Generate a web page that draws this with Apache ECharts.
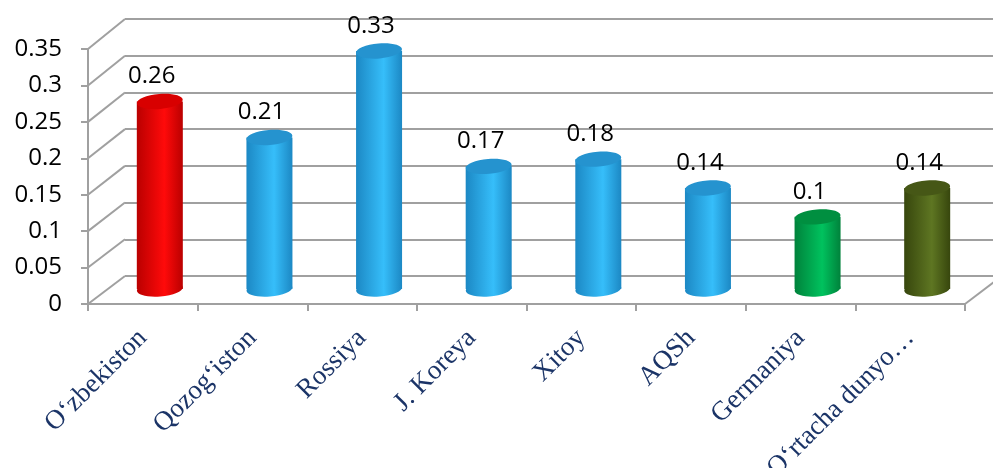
<!DOCTYPE html>
<html>
<head>
<meta charset="utf-8">
<script src="https://cdn.jsdelivr.net/npm/echarts@6/dist/echarts.min.js"></script>
<style>
  html, body { margin: 0; padding: 0; background: #fff; }
  #chart { width: 993px; height: 468px; }
</style>
</head>
<body>
<div id="chart"></div>
<script>
// chart data
const categories = ['Oʻzbekiston', 'Qozogʻiston', 'Rossiya', 'J. Koreya', 'Xitoy', 'AQSh', 'Germaniya', 'Oʻrtacha dunyo…'];
const values = [0.26, 0.21, 0.33, 0.17, 0.18, 0.14, 0.1, 0.14];
const barKinds = ['red', 'blue', 'blue', 'blue', 'blue', 'blue', 'green', 'olive'];
const yTicks = [0, 0.05, 0.1, 0.15, 0.2, 0.25, 0.3, 0.35];

// cylinder shading: edge, middle, top cap
const shades = {
  red:   { edge: '#BA0000', mid: '#FF0A0A', top: '#D80000' },
  blue:  { edge: '#1C88C4', mid: '#36BEFA', top: '#2593CF' },
  green: { edge: '#00823B', mid: '#00C25E', top: '#008F40' },
  olive: { edge: '#37460D', mid: '#5E7622', top: '#465716' }
};

const gridColor = '#A0A0A0';
const frontLeft = 88, frontRight = 28;   // front plane (axes)
const backLeft = 125;                    // back wall
const depthX = backLeft - frontLeft;

const chart = echarts.init(document.getElementById('chart'));

const option = {
  animation: false,
  grid: [
    // front plane: axis lines, ticks and labels
    { left: frontLeft, right: frontRight, top: 49, bottom: 164, outerBoundsMode: 'none' },
    // back wall: gridlines
    { left: backLeft, right: 0, top: 19, bottom: 192, outerBoundsMode: 'none' },
    // middle depth: where the cylinders stand
    { left: 105, right: 11, top: 36.5, bottom: 179, outerBoundsMode: 'none' }
  ],
  xAxis: [
    {
      gridIndex: 0, type: 'category', data: categories,
      axisLine: { lineStyle: { color: gridColor, width: 2 } },
      axisTick: { show: true, length: 7, lineStyle: { color: gridColor, width: 2 } },
      axisLabel: {
        rotate: 45, margin: 30, interval: 0,
        fontFamily: 'Liberation Serif', fontSize: 27, color: '#1B3467'
      }
    },
    { gridIndex: 1, type: 'category', data: categories, show: false },
    { gridIndex: 2, type: 'category', data: categories, show: false }
  ],
  yAxis: [
    {
      gridIndex: 0, type: 'value', min: 0, max: 0.35, interval: 0.05,
      axisLine: { show: true, lineStyle: { color: gridColor, width: 2 } },
      axisTick: { show: true, length: 7, lineStyle: { color: gridColor, width: 2 } },
      axisLabel: { margin: 26, fontFamily: 'Open Sans', fontSize: 24, color: '#000' },
      splitLine: { show: false }
    },
    {
      gridIndex: 1, type: 'value', min: 0, max: 0.35, interval: 0.05,
      axisLine: { show: false }, axisTick: { show: false }, axisLabel: { show: false },
      splitLine: { show: true, lineStyle: { color: gridColor, width: 2 } }
    },
    { gridIndex: 2, type: 'value', min: 0, max: 0.35, show: false }
  ],
  series: [
    {
      type: 'custom',
      xAxisIndex: 2,
      yAxisIndex: 2,
      data: values.map((v, i) => [i, v]),
      renderItem: function (params, api) {
        const base = api.coord([api.value(0), 0]);
        const top = api.coord([api.value(0), api.value(1)]);
        const rx = 23, ry = 7.5;
        const s = shades[barKinds[params.dataIndex]];
        const body = new echarts.graphic.LinearGradient(0, 0, 1, 0, [
          { offset: 0, color: s.edge },
          { offset: 0.6, color: s.mid },
          { offset: 1, color: s.edge }
        ]);
        return {
          type: 'group',
          children: [
            { type: 'ellipse', shape: { cx: base[0], cy: base[1], rx: rx, ry: ry },
              rotation: 0.08, originX: base[0], originY: base[1], style: { fill: body } },
            { type: 'rect', shape: { x: base[0] - rx, y: top[1], width: rx * 2, height: base[1] - top[1] },
              style: { fill: body } },
            { type: 'ellipse', shape: { cx: top[0], cy: top[1], rx: rx, ry: ry },
              rotation: 0.08, originX: top[0], originY: top[1], style: { fill: s.top } },
            { type: 'text', x: top[0] - 8, y: top[1] - 25,
              style: { text: String(api.value(1)), fill: '#000', align: 'center', verticalAlign: 'middle',
                       fontFamily: 'Open Sans', fontSize: 24 } }
          ]
        };
      }
    }
  ]
};

chart.setOption(option);

// side wall and floor edges joining the front axes to the back wall
const edges = yTicks.map(v => {
  const yf = chart.convertToPixel({ yAxisIndex: 0 }, v);
  const yb = chart.convertToPixel({ yAxisIndex: 1 }, v);
  return { type: 'line', silent: true, z: 1,
    shape: { x1: frontLeft, y1: yf, x2: backLeft, y2: yb },
    style: { stroke: gridColor, lineWidth: 2 } };
});
const yf0 = chart.convertToPixel({ yAxisIndex: 0 }, 0);
const yb0 = chart.convertToPixel({ yAxisIndex: 1 }, 0);
const xr = 993 - frontRight;
edges.push({ type: 'line', silent: true, z: 1,
  shape: { x1: xr, y1: yf0, x2: xr + depthX, y2: yb0 },
  style: { stroke: gridColor, lineWidth: 2 } });

chart.setOption({ graphic: edges });
</script>
</body>
</html>
